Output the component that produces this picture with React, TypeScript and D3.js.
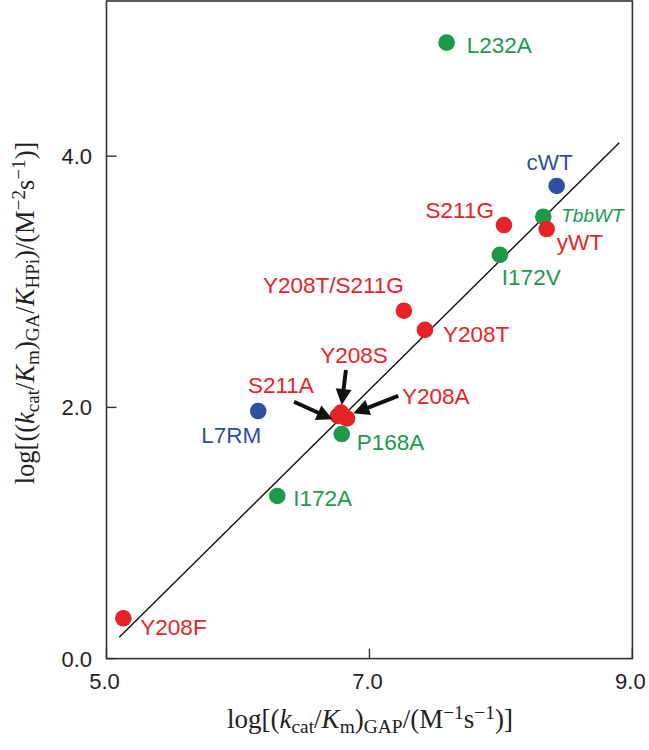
import React from "react";
import * as d3 from "d3";

// ---- data ----
const names = ["L232A", "cWT", "TbbWT", "S211G", "yWT", "I172V", "Y208T/S211G", "Y208T", "S211A", "Y208S", "Y208A", "P168A", "L7RM", "I172A", "Y208F"];
const xValues = [7.587, 8.424, 8.322, 8.023, 8.348, 7.992, 7.262, 7.422, 6.760, 6.783, 6.829, 6.789, 6.154, 6.299, 5.128];
const yValues = [4.904, 3.763, 3.518, 3.452, 3.420, 3.214, 2.770, 2.617, 1.932, 1.959, 1.912, 1.788, 1.971, 1.295, 0.321];
const groups = ["green", "blue", "green", "red", "red", "green", "red", "red", "red", "red", "red", "green", "blue", "green", "red"];
const xTicks = [5, 7, 9];
const yTicks = [0, 2, 4];
const fitX = [5.097, 8.9];
const fitY = [0.17, 4.108];
// arrows: tail / tip in data units
const arrowTargets = ["S211A", "Y208S", "Y208A"];
const arrowTail = [[6.426, 2.045], [6.821, 2.298], [7.219, 2.091]];
const arrowTip = [[6.72, 1.905], [6.789, 2.019], [6.877, 1.953]];

// ---- layout / style ----
const W = 649, H = 750;
const M = { left: 106.5, right: 16.6, top: 1, bottom: 91.4 };
const COLORS: Record<string, string> = { red: "#e52329", green: "#1b9a4a", blue: "#2f4f9f" };
// label placement relative to point: [dx, dy(baseline), anchor, italic]
const labelPos: Record<string, [number, number, string, boolean?]> = {
  "L232A": [20, 10, "start"],
  "cWT": [16, -16, "end"],
  "TbbWT": [18, 5, "start", true],
  "S211G": [-10, -7, "end"],
  "yWT": [10, 21, "start"],
  "I172V": [2, 30, "start"],
  "Y208T/S211G": [-141, -18, "start"],
  "Y208T": [18, 12, "start"],
  "S211A": [-90, -23, "start"],
  "Y208S": [13, -50, "middle"],
  "Y208A": [55, -14, "start"],
  "P168A": [15, 16, "start"],
  "L7RM": [3, 32, "end"],
  "I172A": [16, 10, "start"],
  "Y208F": [17, 17, "start"],
};

export default function App() {
  const x = d3.scaleLinear().domain([5, 9]).range([M.left, W - M.right]);
  const y = d3.scaleLinear().domain([0, (H - M.bottom - M.top) / 125.6]).range([H - M.bottom, M.top]);
  const pts = names.map((n, i) => ({ n, x: xValues[i], y: yValues[i], g: groups[i] }));
  const sans = "'Liberation Sans', Arial, Helvetica, sans-serif";
  const serif = "'Liberation Serif', 'Times New Roman', serif";
  const line = d3.line<number>().x((_, i) => x(fitX[i])).y((_, i) => y(fitY[i]));
  const sub = { fontSize: "0.72em" } as any;

  const arrows = arrowTargets.map((t, i) => {
    const x0 = x(arrowTail[i][0]), y0 = y(arrowTail[i][1]);
    const x1 = x(arrowTip[i][0]), y1 = y(arrowTip[i][1]);
    const ang = Math.atan2(y1 - y0, x1 - x0);
    const hl = 16, hw = 8;
    const bx = x1 - hl * Math.cos(ang), by = y1 - hl * Math.sin(ang);
    const px = -Math.sin(ang), py = Math.cos(ang);
    const head = `M${x1},${y1}L${bx + hw * px},${by + hw * py}L${bx - hw * px},${by - hw * py}Z`;
    return { t, x0, y0, bx: bx + 2 * Math.cos(ang), by: by + 2 * Math.sin(ang), head };
  });

  return (
    <div style={{ position: "absolute", left: 0, top: 0 }}>
      <svg width={W} height={H} style={{ display: "block", background: "#fff" }}>
        <rect x={M.left} y={M.top} width={W - M.left - M.right} height={H - M.top - M.bottom} fill="none" stroke="#333" strokeWidth={1.6} />
        {xTicks.map((t) => (
          <g key={"xt" + t}>
            <line x1={x(t)} x2={x(t)} y1={y(0)} y2={y(0) - 10} stroke="#333" strokeWidth={1.4} />
            <text x={x(t) - 2} y={y(0) + 30} textAnchor="middle" fontFamily={sans} fontSize={22} fill="#222">{t.toFixed(1)}</text>
          </g>
        ))}
        {yTicks.map((t) => (
          <g key={"yt" + t}>
            <line x1={x(5)} x2={x(5) + 10} y1={y(t)} y2={y(t)} stroke="#333" strokeWidth={1.4} />
            <text x={92} y={y(t) + 8} textAnchor="end" fontFamily={sans} fontSize={22} fill="#222">{t.toFixed(1)}</text>
          </g>
        ))}
        <path d={line([0, 1]) || ""} fill="none" stroke="#111" strokeWidth={1.4} />
        {pts.map((p) => (
          <circle key={"c" + p.n} cx={x(p.x)} cy={y(p.y)} r={8.3} fill={COLORS[p.g]} />
        ))}
        {arrows.map((a) => (
          <g key={"a" + a.t}>
            <line x1={a.x0} y1={a.y0} x2={a.bx} y2={a.by} stroke="#111" strokeWidth={4} />
            <path d={a.head} fill="#111" />
          </g>
        ))}
        {pts.map((p) => {
          const lp = labelPos[p.n];
          return (
            <text key={"l" + p.n} x={x(p.x) + lp[0]} y={y(p.y) + lp[1]} textAnchor={lp[2] as any}
              fontFamily={sans} fontSize={lp[3] ? 19 : 22.5} fontStyle={lp[3] ? "italic" : "normal"} fill={COLORS[p.g]}>{p.n}</text>
          );
        })}
        <text x={370} y={728} textAnchor="middle" fontFamily={serif} fontSize={27} fill="#222">
          log[(<tspan fontStyle="italic">k</tspan><tspan {...sub} baselineShift="-25%">cat</tspan>/<tspan fontStyle="italic">K</tspan><tspan {...sub} baselineShift="-25%">m</tspan>)<tspan {...sub} baselineShift="-25%">GAP</tspan>/(M<tspan {...sub} baselineShift="45%">−1</tspan>s<tspan {...sub} baselineShift="45%">−1</tspan>)]
        </text>
        <text transform={`translate(34,313) rotate(-90)`} textAnchor="middle" fontFamily={serif} fontSize={26.5} fill="#222">
          log[((<tspan fontStyle="italic">k</tspan><tspan {...sub} baselineShift="-25%">cat</tspan>/<tspan fontStyle="italic">K</tspan><tspan {...sub} baselineShift="-25%">m</tspan>)<tspan {...sub} baselineShift="-25%">GA</tspan>/<tspan fontStyle="italic">K</tspan><tspan {...sub} baselineShift="-25%">HPi</tspan>)/(M<tspan {...sub} baselineShift="45%">−2</tspan>s<tspan {...sub} baselineShift="45%">−1</tspan>)]
        </text>
      </svg>
    </div>
  );
}
